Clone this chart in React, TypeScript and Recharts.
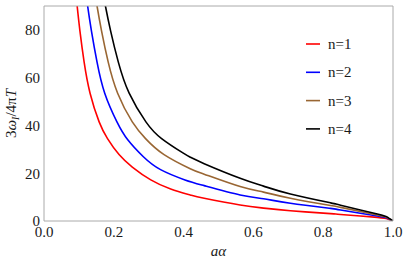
import React from 'react';
import { LineChart, Line, XAxis, YAxis, Legend } from 'recharts';

// ---- tick values ----
const xMajorTicks = [0, 0.2, 0.4, 0.6, 0.8, 1.0];
const xMinorTicks = [0, 0.05, 0.1, 0.15, 0.2, 0.25, 0.3, 0.35, 0.4, 0.45, 0.5, 0.55, 0.6, 0.65, 0.7, 0.75, 0.8, 0.85, 0.9, 0.95, 1.0];
const yMajorTicks = [0, 20, 40, 60, 80];
const yMinorTicks = [0, 5, 10, 15, 20, 25, 30, 35, 40, 45, 50, 55, 60, 65, 70, 75, 80, 85, 90];

// ---- series ----
const seriesNames = ['n=1', 'n=2', 'n=3', 'n=4'];
const seriesColors = ['#ff0000', '#0000ff', '#996633', '#000000'];

const n1 = [
  { x: 0.088, y: 100 }, { x: 0.095, y: 90 }, { x: 0.103, y: 79.5 }, { x: 0.115, y: 66.5 },
  { x: 0.132, y: 53.5 }, { x: 0.158, y: 41.5 }, { x: 0.182, y: 34.5 }, { x: 0.215, y: 27.8 },
  { x: 0.253, y: 22.6 }, { x: 0.306, y: 17.2 }, { x: 0.363, y: 13.4 }, { x: 0.419, y: 10.9 },
  { x: 0.459, y: 9.5 }, { x: 0.562, y: 6.7 }, { x: 0.629, y: 5.4 }, { x: 0.706, y: 4.3 },
  { x: 0.821, y: 3.1 }, { x: 0.85, y: 2.75 }, { x: 0.955, y: 1.5 }, { x: 0.985, y: 0.8 }, { x: 1.0, y: 0 },
];
const n2 = [
  { x: 0.116, y: 100 }, { x: 0.125, y: 90 }, { x: 0.136, y: 79.5 }, { x: 0.152, y: 66.5 },
  { x: 0.174, y: 53.5 }, { x: 0.209, y: 41.5 }, { x: 0.240, y: 34.0 }, { x: 0.284, y: 27.0 },
  { x: 0.334, y: 21.5 }, { x: 0.404, y: 17.2 }, { x: 0.459, y: 14.8 }, { x: 0.562, y: 10.9 },
  { x: 0.629, y: 9.3 }, { x: 0.706, y: 7.4 }, { x: 0.821, y: 5.3 }, { x: 0.85, y: 4.6 },
  { x: 0.955, y: 2.1 }, { x: 0.985, y: 1.1 }, { x: 1.0, y: 0 },
];
const n3 = [
  { x: 0.141, y: 100 }, { x: 0.152, y: 90 }, { x: 0.165, y: 79.5 }, { x: 0.184, y: 66.5 },
  { x: 0.211, y: 53.5 }, { x: 0.253, y: 41.5 }, { x: 0.291, y: 34.5 }, { x: 0.344, y: 27.8 },
  { x: 0.419, y: 21.9 }, { x: 0.459, y: 19.6 }, { x: 0.562, y: 14.4 }, { x: 0.629, y: 12.1 },
  { x: 0.706, y: 9.5 }, { x: 0.821, y: 6.5 }, { x: 0.85, y: 5.7 }, { x: 0.955, y: 2.5 },
  { x: 0.985, y: 1.3 }, { x: 1.0, y: 0 },
];
const n4 = [
  { x: 0.163, y: 100 }, { x: 0.176, y: 90 }, { x: 0.191, y: 79.5 }, { x: 0.213, y: 66.5 },
  { x: 0.244, y: 53.5 }, { x: 0.292, y: 41.5 }, { x: 0.337, y: 34.5 }, { x: 0.398, y: 28.5 },
  { x: 0.419, y: 26.7 }, { x: 0.459, y: 24.0 }, { x: 0.562, y: 17.9 }, { x: 0.629, y: 14.6 },
  { x: 0.706, y: 11.3 }, { x: 0.821, y: 7.6 }, { x: 0.85, y: 6.6 }, { x: 0.955, y: 2.9 },
  { x: 0.985, y: 1.5 }, { x: 1.0, y: 0 },
];
const seriesData = [n1, n2, n3, n4];

const FRAME = '#aaaaaa';
const FONT = '"Liberation Serif", "Times New Roman", serif';
const tickStyle = { fontSize: 15, fill: '#1a1a1a', fontFamily: FONT };

const LegendContent = (props: any) => {
  const payload = props.payload || [];
  return (
    <svg width={100} height={120} style={{ display: 'block' }}>
      {payload.map((p: any, i: number) => {
        const cy = 14 + i * 28.3;
        return (
          <g key={i}>
            <line x1={6} x2={20} y1={cy} y2={cy} stroke={p.color} strokeWidth={1.6} />
            <text x={28} y={cy} dominantBaseline="central" fontSize={15} fontFamily={FONT} fill="#1a1a1a">
              {p.value}
            </text>
          </g>
        );
      })}
    </svg>
  );
};

const XLabel = (props: any) => {
  const vb = props.viewBox || { x: 44, y: 221, width: 349 };
  return (
    <text x={vb.x + vb.width / 2} y={vb.y + 35} textAnchor="middle" fontSize={15} fontStyle="italic" fontFamily={FONT} fill="#1a1a1a">
      aα
    </text>
  );
};

const YLabel = (props: any) => {
  const vb = props.viewBox || { x: 0, y: 6, height: 215 };
  const cx = 16;
  const cy = vb.y + vb.height / 2;
  return (
    <text x={cx} y={cy} textAnchor="middle" transform={`rotate(-90, ${cx}, ${cy})`} fontSize={15} fontFamily={FONT} fill="#1a1a1a">
      <tspan>3</tspan>
      <tspan fontStyle="italic">ω</tspan>
      <tspan fontStyle="italic" fontSize={10} dy={3}>I</tspan>
      <tspan dy={-3}>/4π</tspan>
      <tspan fontStyle="italic">T</tspan>
    </text>
  );
};

export default function App() {
  return (
    <div style={{ position: 'absolute', left: 0, top: 0 }}>
      <LineChart width={409} height={266} margin={{ top: 6, right: 16, bottom: 0, left: 0 }}>
        <XAxis xAxisId="main" type="number" dataKey="x" domain={[0, 1]} allowDataOverflow ticks={xMajorTicks}
          interval={0} tickFormatter={(v: number) => v.toFixed(1)} tickLine={false} tickSize={0} tickMargin={5}
          axisLine={{ stroke: FRAME }} height={45} tick={tickStyle} label={{ content: XLabel } as any} />
        <YAxis yAxisId="main" type="number" domain={[0, 90]} allowDataOverflow ticks={yMajorTicks} interval={0}
          tickLine={false} tickSize={0} tickMargin={4} axisLine={{ stroke: FRAME }} width={44} tick={tickStyle}
          label={{ content: YLabel } as any} />

        <XAxis xAxisId="bMaj" type="number" domain={[0, 1]} allowDataOverflow ticks={xMajorTicks} interval={0}
          orientation="bottom" mirror height={10} tick={false} tickSize={4} tickLine={{ stroke: FRAME }} axisLine={false} />
        <XAxis xAxisId="bMin" type="number" domain={[0, 1]} allowDataOverflow ticks={xMinorTicks} interval={0}
          orientation="bottom" mirror height={10} tick={false} tickSize={2.5} tickLine={{ stroke: FRAME }} axisLine={false} />
        <XAxis xAxisId="tMaj" type="number" domain={[0, 1]} allowDataOverflow ticks={xMajorTicks} interval={0}
          orientation="top" mirror height={10} tick={false} tickSize={4} tickLine={{ stroke: FRAME }} axisLine={{ stroke: FRAME }} />
        <XAxis xAxisId="tMin" type="number" domain={[0, 1]} allowDataOverflow ticks={xMinorTicks} interval={0}
          orientation="top" mirror height={10} tick={false} tickSize={2.5} tickLine={{ stroke: FRAME }} axisLine={false} />
        <YAxis yAxisId="lMaj" type="number" domain={[0, 90]} allowDataOverflow ticks={yMajorTicks} interval={0}
          orientation="left" mirror width={10} tick={false} tickSize={4} tickLine={{ stroke: FRAME }} axisLine={false} />
        <YAxis yAxisId="lMin" type="number" domain={[0, 90]} allowDataOverflow ticks={yMinorTicks} interval={0}
          orientation="left" mirror width={10} tick={false} tickSize={2.5} tickLine={{ stroke: FRAME }} axisLine={false} />
        <YAxis yAxisId="rMaj" type="number" domain={[0, 90]} allowDataOverflow ticks={yMajorTicks} interval={0}
          orientation="right" mirror width={10} tick={false} tickSize={4} tickLine={{ stroke: FRAME }} axisLine={{ stroke: FRAME }} />
        <YAxis yAxisId="rMin" type="number" domain={[0, 90]} allowDataOverflow ticks={yMinorTicks} interval={0}
          orientation="right" mirror width={10} tick={false} tickSize={2.5} tickLine={{ stroke: FRAME }} axisLine={false} />

        {seriesData.map((d, i) => (
          <Line key={seriesNames[i]} xAxisId="main" yAxisId="main" data={d} dataKey="y" name={seriesNames[i]}
            type="natural" stroke={seriesColors[i]} strokeWidth={1.6} dot={false} isAnimationActive={false} />
        ))}

        <Legend layout="horizontal" verticalAlign="middle" align="center"
          wrapperStyle={{ left: 300, top: 30, width: 100, height: 120 }} content={LegendContent as any} />
      </LineChart>
    </div>
  );
}
